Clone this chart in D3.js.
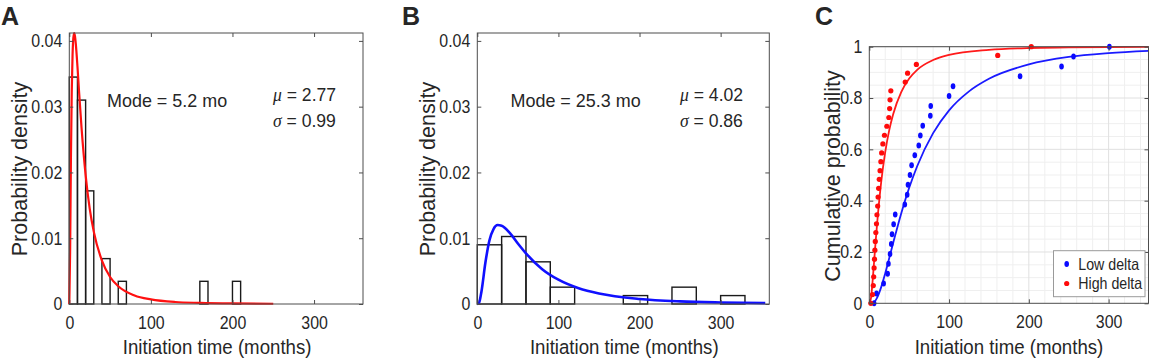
<!DOCTYPE html>
<html><head><meta charset="utf-8">
<script src="https://cdn.jsdelivr.net/npm/d3@7"></script>
<style>
body{margin:0;background:#fff}
svg text{font-family:"Liberation Sans",Arial,Helvetica,sans-serif;fill:#262626}
</style>
</head><body>
<svg id="chart" width="1154" height="363"></svg>
<script>
// ---------------- data ----------------
const xTicks = [0, 100, 200, 300];
const pdfTicks = [0, 0.01, 0.02, 0.03, 0.04];
const pdfTickLabels = ["0", "0.01", "0.02", "0.03", "0.04"];
const cdfTicks = [0, 0.2, 0.4, 0.6, 0.8, 1];
const cdfTickLabels = ["0", "0.2", "0.4", "0.6", "0.8", "1"];

// Panel A histogram (months, probability density)
const histA_start = [0, 10, 20, 40, 60, 160, 200];
const histA_end = [10, 20, 30, 50, 70, 170, 210];
const histA_density = [0.0345, 0.031, 0.0172, 0.0069, 0.00345, 0.00345, 0.00345];
// Panel A fitted lognormal density
const fitA_x = [0, 1, 2, 3, 4, 5, 6, 7, 8, 10, 12, 15, 20, 25, 30, 40, 50, 60, 80, 100, 130, 160, 200, 250];
const fitA_y = [0, 0.0080, 0.0223, 0.0323, 0.0379, 0.0405, 0.0412, 0.0407, 0.0395, 0.0361, 0.0322, 0.0268, 0.0196, 0.0145, 0.0110, 0.0066, 0.0041, 0.0027, 0.0013, 0.0007, 0.0003, 0.00017, 0.00008, 0.00004];

// Panel B histogram
const histB_start = [0, 30, 60, 90, 180, 240, 300];
const histB_end = [30, 60, 90, 120, 210, 270, 330];
const histB_density = [0.0090, 0.01026, 0.00641, 0.00256, 0.00128, 0.00256, 0.00128];
// Panel B fitted lognormal density (blue curve)
const fitB_x = [0, 2, 5, 10, 15, 20, 25, 30, 40, 50, 60, 80, 100, 125, 150, 200, 250, 300, 355];
const fitB_y = [0, 0.00013, 0.0018, 0.0063, 0.0097, 0.0114, 0.0120, 0.0119, 0.0108, 0.0092, 0.0077, 0.0053, 0.0037, 0.0024, 0.0016, 0.00077, 0.0004, 0.00023, 0.00013];

// Panel C empirical cumulative points
const ecdfHigh_x = [2, 4, 5, 5.5, 6, 6.5, 7, 7.5, 8.2, 9, 9.6, 10.5, 11, 11.7, 12.5, 13.5, 14.5, 15.5, 17, 19, 22, 24.5, 25.5, 26, 27, 45, 48, 59, 161, 203];
const ecdfHigh_y = [0, 0.034, 0.069, 0.103, 0.138, 0.172, 0.207, 0.241, 0.276, 0.310, 0.345, 0.379, 0.414, 0.448, 0.483, 0.517, 0.552, 0.586, 0.621, 0.655, 0.690, 0.724, 0.759, 0.793, 0.828, 0.862, 0.897, 0.931, 0.966, 1.0];
const ecdfLow_x = [6, 9, 18, 23, 24, 26, 27.5, 28.5, 30.5, 32.5, 44.5, 47.5, 48.5, 51, 53, 57, 62, 64, 67, 76.5, 77, 100, 105, 189, 241, 256, 301];
const ecdfLow_y = [0, 0.038, 0.077, 0.115, 0.154, 0.192, 0.231, 0.269, 0.308, 0.346, 0.385, 0.423, 0.462, 0.5, 0.538, 0.577, 0.615, 0.654, 0.692, 0.731, 0.769, 0.808, 0.846, 0.885, 0.923, 0.962, 1.0];
// Panel C fitted cumulative curves
const cdfHigh_x = [0, 2, 4, 6, 8, 10, 15, 20, 25, 30, 40, 50, 60, 80, 100, 150, 200, 250, 300, 350];
const cdfHigh_y = [0, 0.018, 0.081, 0.162, 0.243, 0.318, 0.475, 0.590, 0.675, 0.738, 0.823, 0.876, 0.910, 0.948, 0.968, 0.988, 0.995, 0.997, 0.9985, 0.999];
const cdfLow_x = [0, 5, 10, 15, 20, 30, 40, 50, 60, 80, 100, 125, 150, 200, 250, 300, 350];
const cdfLow_y = [0, 0.0025, 0.023, 0.064, 0.117, 0.236, 0.350, 0.450, 0.534, 0.663, 0.752, 0.826, 0.875, 0.931, 0.960, 0.975, 0.984];

const legendLabels = ["Low delta", "High delta"];
const panelLetters = ["A", "B", "C"];

// ---------------- drawing ----------------
const svg = d3.select("#chart");
const AX = "#4d4d4d";
const SQ = 0.86; // horizontal text compression seen in the figure

function squeeze(sel, f) {
  sel.each(function () {
    const w = this.getComputedTextLength();
    d3.select(this).attr("textLength", w * f).attr("lengthAdjust", "spacingAndGlyphs");
  });
}

function drawAxes(g, x, y, yTicks, yLabels, xTitle, yTitle, yTitleX, yTitleY, xTitleX) {
  const [x0, x1] = x.range();
  const [y0, y1] = y.range();
  const tl = 4;
  const bottom = g.append("g").attr("transform", `translate(0,${y0})`)
    .call(d3.axisBottom(x).tickValues(xTicks).tickSizeInner(-tl).tickSizeOuter(0).tickPadding(12));
  const top = g.append("g").attr("transform", `translate(0,${y1})`)
    .call(d3.axisTop(x).tickValues(xTicks).tickSizeInner(-tl).tickSizeOuter(0).tickFormat(""));
  const left = g.append("g").attr("transform", `translate(${x0},0)`)
    .call(d3.axisLeft(y).tickValues(yTicks).tickSizeInner(-tl).tickSizeOuter(0).tickPadding(7)
      .tickFormat((d, i) => yLabels[i]));
  const right = g.append("g").attr("transform", `translate(${x1},0)`)
    .call(d3.axisRight(y).tickValues(yTicks).tickSizeInner(-tl).tickSizeOuter(0).tickFormat(""));
  [bottom, top, left, right].forEach(a => {
    a.select(".domain").remove();
    a.selectAll(".tick line").attr("stroke", AX);
    a.selectAll("text").attr("font-size", 18.5).attr("fill", "#262626")
      .attr("font-family", '"Liberation Sans",Arial,sans-serif');
  });
  squeeze(bottom.selectAll("text"), SQ);
  squeeze(left.selectAll("text"), SQ);
  g.append("rect").attr("x", x0).attr("y", y1).attr("width", x1 - x0).attr("height", y0 - y1)
    .attr("fill", "none").attr("stroke", AX).attr("stroke-width", 1);
  const xt = g.append("text").attr("x", xTitleX).attr("y", 354).attr("text-anchor", "middle")
    .attr("font-size", 20.5).text(xTitle);
  squeeze(xt, 0.91);
  g.append("text").attr("transform", `translate(${yTitleX},${yTitleY}) rotate(-90)`)
    .attr("text-anchor", "middle").attr("font-size", 21.5).text(yTitle);
}

function histPanel(left, right, start, end, dens, fx, fy, color, curveW, stats, letterX, letter) {
  const g = svg.append("g");
  const x = d3.scaleLinear().domain([0, 360]).range([left, right]);
  const y = d3.scaleLinear().domain([0, 0.0412]).range([304, 33]);
  // bars
  g.selectAll("rect.bar").data(start).join("rect").attr("class", "bar")
    .attr("x", (d, i) => x(d)).attr("width", (d, i) => x(end[i]) - x(d))
    .attr("y", (d, i) => y(dens[i])).attr("height", (d, i) => y(0) - y(dens[i]))
    .attr("fill", "none").attr("stroke", "#1a1a1a").attr("stroke-width", 1.4);
  // fit curve
  const line = d3.line().x((d, i) => x(fx[i])).y((d, i) => y(fy[i])).curve(d3.curveMonotoneX);
  g.append("path").datum(fx).attr("d", line).attr("fill", "none")
    .attr("stroke", color).attr("stroke-width", curveW);
  drawAxes(g, x, y, pdfTicks, pdfTickLabels, "Initiation time (months)", "Probability density",
    left - 42.5, 169, (left + right) / 2 + 1);
  // annotations
  const m = g.append("text").attr("x", stats.modeX).attr("y", 107).attr("font-size", 18.5).text(stats.mode);
  squeeze(m, 0.97);
  const mu = g.append("text").attr("x", stats.muX).attr("y", 101).attr("font-size", 18.5);
  mu.append("tspan").attr("font-family", '"Liberation Serif",serif').attr("font-style", "italic").text("μ");
  mu.append("tspan").text(" = " + stats.mu);
  const sg = g.append("text").attr("x", stats.muX).attr("y", 127).attr("font-size", 18.5);
  sg.append("tspan").attr("font-family", '"Liberation Serif",serif').attr("font-style", "italic").text("σ");
  sg.append("tspan").text(" = " + stats.sigma);
  squeeze(mu, 0.95); squeeze(sg, 0.95);
  svg.append("text").attr("x", letterX).attr("y", 25).attr("font-size", 25).attr("font-weight", "bold")
    .attr("fill", "#000").text(letter);
}

histPanel(69.3, 363, histA_start, histA_end, histA_density, fitA_x, fitA_y, "#ff1010", 2.2,
  {mode: "Mode = 5.2 mo", modeX: 107, mu: "2.77", sigma: "0.99", muX: 273}, 1, panelLetters[0]);
histPanel(477.3, 769.3, histB_start, histB_end, histB_density, fitB_x, fitB_y, "#1010ff", 2.6,
  {mode: "Mode = 25.3 mo", modeX: 510.5, mu: "4.02", sigma: "0.86", muX: 680}, 402, panelLetters[1]);

// ---------- Panel C ----------
(function () {
  const g = svg.append("g");
  const L = 869.3, R = 1148.5, T = 46.7, B = 303.3;
  const x = d3.scaleLinear().domain([0, 350]).range([L, R]);
  const y = d3.scaleLinear().domain([0, 1]).range([B, T]);
  // grid
  const minorX = d3.range(20, 350, 20).filter(v => v % 100 !== 0);
  const minorY = d3.range(0.05, 1, 0.05).filter(v => Math.abs(v * 5 - Math.round(v * 5)) > 1e-6);
  g.selectAll("line.mgx").data(minorX).join("line").attr("x1", d => x(d)).attr("x2", d => x(d))
    .attr("y1", T).attr("y2", B).attr("stroke", "#efefef");
  g.selectAll("line.mgy").data(minorY).join("line").attr("y1", d => y(d)).attr("y2", d => y(d))
    .attr("x1", L).attr("x2", R).attr("stroke", "#efefef");
  g.selectAll("line.gx").data(xTicks.slice(1)).join("line").attr("x1", d => x(d)).attr("x2", d => x(d))
    .attr("y1", T).attr("y2", B).attr("stroke", "#e0e0e0");
  g.selectAll("line.gy").data(cdfTicks.slice(1)).join("line").attr("y1", d => y(d)).attr("y2", d => y(d))
    .attr("x1", L).attr("x2", R).attr("stroke", "#e0e0e0");

  const line = (xs, ys) => d3.line().x((d, i) => x(xs[i])).y((d, i) => y(ys[i])).curve(d3.curveMonotoneX)(xs);
  g.append("path").attr("d", line(cdfLow_x, cdfLow_y)).attr("fill", "none").attr("stroke", "#1a1aff").attr("stroke-width", 1.8);
  g.append("path").attr("d", line(cdfHigh_x, cdfHigh_y)).attr("fill", "none").attr("stroke", "#ff1a1a").attr("stroke-width", 1.8);

  g.selectAll("ellipse.low").data(ecdfLow_x).join("ellipse").attr("class", "low")
    .attr("cx", d => x(d)).attr("cy", (d, i) => y(ecdfLow_y[i])).attr("rx", 2.3).attr("ry", 3)
    .attr("fill", "#0a0aff");
  g.selectAll("circle.high").data(ecdfHigh_x).join("circle").attr("class", "high")
    .attr("cx", d => x(d)).attr("cy", (d, i) => y(ecdfHigh_y[i])).attr("r", 2.6)
    .attr("fill", "#ff0a0a");

  drawAxes(g, x, y, cdfTicks, cdfTickLabels, "Initiation time (months)", "Cumulative probability",
    840, 176, 1009);

  // legend
  const lg = g.append("g");
  lg.append("rect").attr("x", 1053.5).attr("y", 250.7).attr("width", 91.5).attr("height", 46)
    .attr("fill", "#fff").attr("stroke", "#9a9a9a");
  const cols = ["#0a0aff", "#ff0a0a"];
  legendLabels.forEach((t, i) => {
    const cy = 264 + i * 19.5;
    if (i === 0) lg.append("ellipse").attr("cx", 1066.7).attr("cy", cy).attr("rx", 2.3).attr("ry", 3).attr("fill", cols[i]);
    else lg.append("circle").attr("cx", 1066.7).attr("cy", cy).attr("r", 2.6).attr("fill", cols[i]);
    const tx = lg.append("text").attr("x", 1078.3).attr("y", cy + 5.5).attr("font-size", 16.5).text(t);
    squeeze(tx, SQ);
  });
  svg.append("text").attr("x", 815).attr("y", 25).attr("font-size", 25).attr("font-weight", "bold")
    .attr("fill", "#000").text(panelLetters[2]);
})();
</script>
</body></html>
